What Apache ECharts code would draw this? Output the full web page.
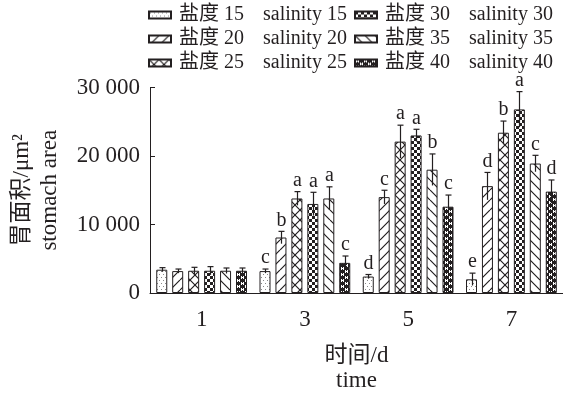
<!DOCTYPE html>
<html><head><meta charset="utf-8">
<script src="https://cdn.jsdelivr.net/npm/echarts@6/dist/echarts.min.js"></script>
<style>html,body{margin:0;padding:0;background:#fff}#c{width:563px;height:399px}</style>
</head><body><div id="c"></div>
<script>
const categories = ['1', '3', '5', '7'];
const names = ['盐度 15', '盐度 20', '盐度 25', '盐度 30', '盐度 35', '盐度 40'];
const enNames = ['salinity 15', 'salinity 20', 'salinity 25', 'salinity 30', 'salinity 35', 'salinity 40'];
const s15 = [3400, 3200, 2400, 2000];
const s20 = [3200, 8100, 14000, 15600];
const s25 = [3250, 13800, 22100, 23400];
const s30 = [3250, 13000, 23000, 26800];
const s35 = [3250, 13800, 18000, 18900];
const s40 = [3250, 4400, 12600, 14800];
const e15 = [300, 300, 300, 900];
const e20 = [300, 900, 1000, 2000];
const e25 = [500, 1000, 2400, 1700];
const e30 = [600, 1700, 900, 2600];
const e35 = [400, 1700, 2300, 1200];
const e40 = [400, 1000, 1700, 1700];
const l15 = ['', 'c', 'd', 'e'];
const l20 = ['', 'b', 'c', 'd'];
const l25 = ['', 'a', 'a', 'b'];
const l30 = ['', 'a', 'a', 'a'];
const l35 = ['', 'a', 'b', 'c'];
const l40 = ['', 'c', 'c', 'd'];
const yTicks = [0, 10000, 20000, 30000];

const vals = [s15, s20, s25, s30, s35, s40];
const errs = [e15, e20, e25, e30, e35, e40];
const lets = [l15, l20, l25, l30, l35, l40];

const FONT = '"Liberation Serif", "Times New Roman", "Noto Sans CJK SC", serif';
const INK = '#231f20';

function mk(w, h, bg, draw) {
  const c = document.createElement('canvas');
  c.width = w; c.height = h;
  const g = c.getContext('2d');
  g.fillStyle = bg; g.fillRect(0, 0, w, h);
  draw(g, w, h);
  return { image: c, repeat: 'repeat' };
}
function diag(g, w, h, forward) {
  g.strokeStyle = INK; g.lineWidth = 1.2;
  g.beginPath();
  for (let k = -1; k <= 1; k++) {
    if (forward) { g.moveTo(k * w, h); g.lineTo(k * w + w, 0); }
    else { g.moveTo(k * w, 0); g.lineTo(k * w + w, h); }
  }
  g.stroke();
}
const patterns = [
  mk(4, 6, '#fff', g => { g.fillStyle = '#8a8a8a'; g.fillRect(1, 1, 1, 1); g.fillRect(3, 4, 1, 1); }),
  mk(10, 10, '#fff', (g, w, h) => diag(g, w, h, true)),
  mk(10, 10, '#fff', (g, w, h) => { diag(g, w, h, true); diag(g, w, h, false); }),
  mk(6, 6, '#fff', g => { g.fillStyle = INK; g.fillRect(0, 0, 3, 3); g.fillRect(3, 3, 3, 3); }),
  mk(10, 10, '#fff', (g, w, h) => diag(g, w, h, false)),
  mk(8, 6, INK, g => {
    g.fillStyle = '#fff';
    g.fillRect(1, 1, 3, 1); g.fillRect(1, 0, 1, 3); g.fillRect(3, 0, 1, 3);
    g.fillRect(5, 4, 3, 1); g.fillRect(5, 3, 1, 3); g.fillRect(7, 3, 1, 3);
  })
];

const BARW = 11, GAP = 0.45;
const pitch = BARW * (1 + GAP);

const barSeries = names.map((n, i) => ({
  name: n, type: 'bar', data: vals[i], barWidth: BARW, barGap: (GAP * 100) + '%',
  itemStyle: { color: patterns[i], borderColor: INK, borderWidth: 1 },
  emphasis: { disabled: true }
}));

const errData = [];
const letterList = [];
for (let s = 0; s < 6; s++) for (let c = 0; c < categories.length; c++) {
  errData.push([c, vals[s][c], errs[s][c], s]);
  letterList.push(lets[s][c]);
}

const errSeries = {
  type: 'custom', silent: true, z: 10, data: errData,
  encode: { x: 0, y: 1 },
  renderItem(params, api) {
    const ci = api.value(0), v = api.value(1), e = api.value(2), s = api.value(3);
    const off = (s - 2.5) * pitch;
    const top = api.coord([ci, v + e]);
    const bot = api.coord([ci, v - e]);
    const x = Math.round(top[0] + off) + 0.5;
    const st = { stroke: INK, lineWidth: 1.2 };
    return {
      type: 'group', children: [
        { type: 'line', shape: { x1: x, y1: top[1], x2: x, y2: bot[1] }, style: st },
        { type: 'line', shape: { x1: x - 3, y1: top[1], x2: x + 3, y2: top[1] }, style: st },
        { type: 'text', style: { text: letterList[params.dataIndex], x: x, y: top[1] - 1, align: 'center', verticalAlign: 'bottom', fontSize: 20, fontFamily: FONT, fill: INK } }
      ]
    };
  }
};

function legendCfg(left, idx) {
  return {
    orient: 'vertical', left: left, top: 0, itemWidth: 22, itemHeight: 7, itemGap: 4,
    icon: 'rect', selectedMode: false,
    data: idx.map(i => names[i]),
    formatter: n => '{a|' + n + '}{b|' + enNames[names.indexOf(n)] + '}',
    textStyle: {
      fontFamily: FONT, fontSize: 20, color: INK, lineHeight: 20,
      rich: { a: { fontFamily: FONT, fontSize: 20, color: INK, width: 84, padding: [0, 0, 0, 3] }, b: { fontFamily: FONT, fontSize: 20, color: INK } }
    }
  };
}

const chart = echarts.init(document.getElementById('c'), null, { renderer: 'canvas' });
chart.setOption({
  animation: false,
  legend: [legendCfg(143, [0, 1, 2]), legendCfg(349, [3, 4, 5])],
  grid: { left: 148.5, top: 87.5, width: 420, height: 205.5 },
  xAxis: {
    type: 'category', data: categories,
    axisLine: { lineStyle: { color: INK, width: 1 } },
    axisTick: { show: false },
    axisLabel: { margin: 15, fontSize: 23, fontFamily: FONT, color: INK },
    name: '时间/d\ntime', nameLocation: 'middle', nameGap: 50,
    nameTextStyle: { fontSize: 23, fontFamily: FONT, color: INK, lineHeight: 25 }
  },
  yAxis: {
    type: 'value', min: yTicks[0], max: yTicks[yTicks.length - 1], interval: yTicks[1] - yTicks[0],
    axisLine: { show: true, lineStyle: { color: INK, width: 1 } },
    axisTick: { show: true, inside: true, length: 5, lineStyle: { color: INK } },
    splitLine: { show: false },
    axisLabel: { margin: 10, fontSize: 23, fontFamily: FONT, color: INK,
      formatter: v => String(v).replace(/\B(?=(\d{3})+(?!\d))/g, ' ') },
    name: '胃面积/μm²\nstomach area', nameLocation: 'middle', nameGap: 86,
    nameTextStyle: { fontSize: 23, fontFamily: FONT, color: INK, lineHeight: 28 }
  },
  series: barSeries.concat([errSeries])
});
</script></body></html>
